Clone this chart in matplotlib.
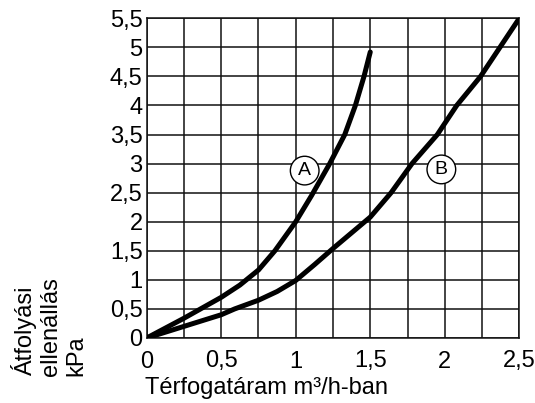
import matplotlib.pyplot as plt
import numpy as np

plt.rcParams['font.family'] = ['Liberation Sans', 'DejaVu Sans']

# curve A
a_x = [0, 0.25, 0.5, 0.625, 0.75, 0.86, 1.0, 1.106, 1.228, 1.329, 1.40, 1.458, 1.5]
a_y = [0, 0.34, 0.70, 0.91, 1.17, 1.5, 2.0, 2.45, 3.0, 3.5, 4.0, 4.5, 4.92]
# curve B
b_x = [0, 0.25, 0.5, 0.59, 0.75, 0.875, 1.0, 1.125, 1.25, 1.5, 1.64, 1.78, 1.95, 2.08, 2.24, 2.37, 2.5]
b_y = [0, 0.2, 0.40, 0.50, 0.65, 0.80, 0.99, 1.26, 1.54, 2.08, 2.5, 3.0, 3.5, 4.0, 4.5, 5.0, 5.5]

x_ticks = [0, 0.5, 1, 1.5, 2, 2.5]
x_labels = ['0', '0,5', '1', '1,5', '2', '2,5']
y_ticks = [0, 0.5, 1, 1.5, 2, 2.5, 3, 3.5, 4, 4.5, 5, 5.5]
y_labels = ['0', '0,5', '1', '1,5', '2', '2,5', '3', '3,5', '4', '4,5', '5', '5,5']

W, H = 535, 403
fig = plt.figure(figsize=(W / 100, H / 100), dpi=100)
ax = fig.add_axes([146.7 / W, 1 - 338 / H, (519.3 - 146.7) / W, (338 - 18.3) / H])

ax.set_xlim(0, 2.5)
ax.set_ylim(0, 5.5)
ax.set_xticks(x_ticks)
ax.set_xticklabels(x_labels)
ax.set_xticks(np.arange(0.25, 2.5, 0.5), minor=True)
ax.set_yticks(y_ticks)
ax.set_yticklabels(y_labels)
ax.grid(True, which='both', color='#111111', linewidth=1.1)
ax.tick_params(which='both', length=0, labelsize=17)
ax.tick_params(axis='x', pad=9)
ax.tick_params(axis='y', pad=3)
for s in ax.spines.values():
    s.set_linewidth(1.1)
    s.set_color('#111111')
ax.set_axisbelow(True)

ax.plot(a_x, a_y, color='black', linewidth=3.6, solid_capstyle='round', solid_joinstyle='round', zorder=3)
ax.plot(b_x, b_y, color='black', linewidth=3.6, solid_capstyle='round', solid_joinstyle='round', zorder=3)

circ = dict(boxstyle='circle,pad=0.3', facecolor='white', edgecolor='black', linewidth=1.0)
ax.text(1.06, 2.88, 'A', fontsize=14, ha='center', va='center', bbox=circ, zorder=4)
ax.text(1.977, 2.9, 'B', fontsize=14, ha='center', va='center', bbox=circ, zorder=4)

fig.text(145 / W, 1 - 377 / H, 'Térfogatáram m³/h-ban', fontsize=17, ha='left', va='top')
fig.text(11 / W, 1 - 376 / H, 'Átfolyási\nellenállás\nkPa', fontsize=17, rotation=90,
         ha='left', va='bottom', multialignment='left', linespacing=1.2)

fig.savefig('out.png', dpi=100)
